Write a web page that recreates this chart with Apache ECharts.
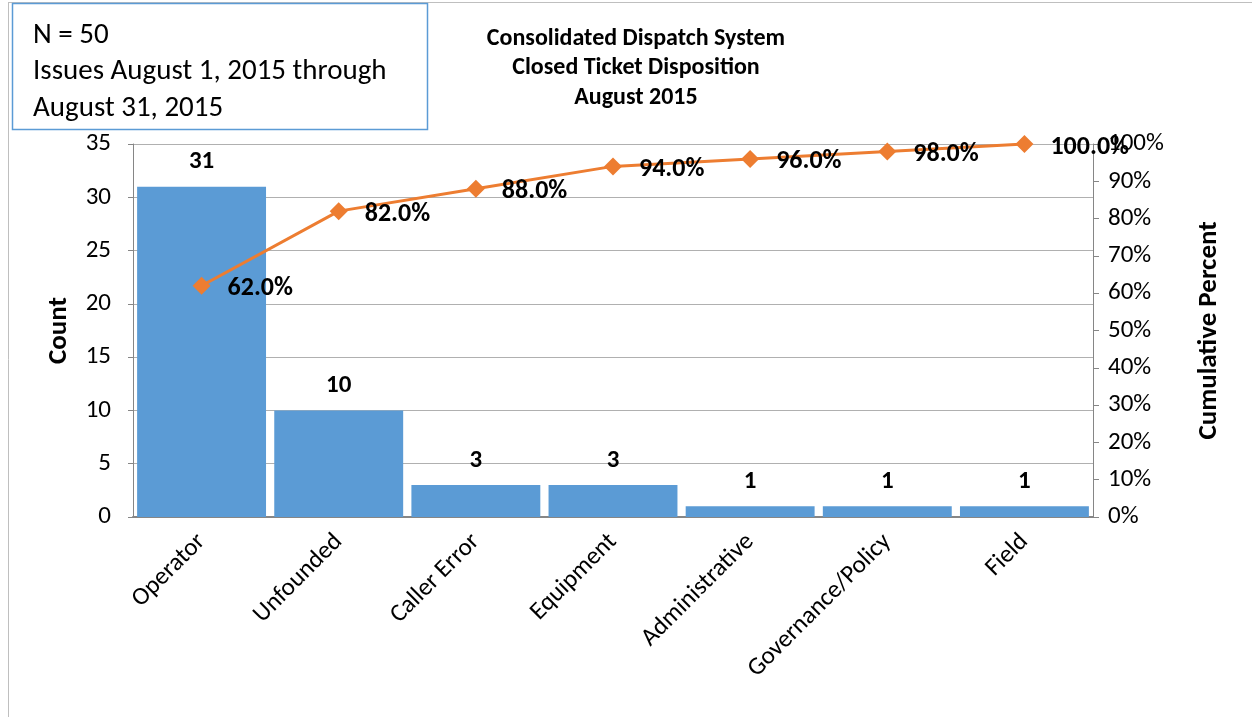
<!DOCTYPE html>
<html><head><meta charset="utf-8">
<script src="https://cdn.jsdelivr.net/npm/echarts@6/dist/echarts.min.js"></script>
<style>html,body{margin:0;padding:0;background:#fff}#c{width:1252px;height:717px}</style>
</head><body><div id="c"></div>
<script>
const categories = ['Operator','Unfounded','Caller Error','Equipment','Administrative','Governance/Policy','Field'];
const counts = [31,10,3,3,1,1,1];
const cumulativePct = [62.0,82.0,88.0,94.0,96.0,98.0,100.0];
const countTicks = {min:0,max:35,interval:5};
const pctTicks = {min:0,max:100,interval:10};
const titleLines = ['Consolidated Dispatch System','Closed Ticket Disposition','August 2015'];
const noteLines = ['N = 50','Issues August 1, 2015 through','August 31, 2015'];

const F = 'Carlito, Lato, "Noto Sans", sans-serif';
const chart = echarts.init(document.getElementById('c'));
chart.setOption({
  animation:false,
  textStyle:{fontFamily:F},
  title:{text:titleLines.join('\n'),left:631,top:19,textAlign:'center',
    textStyle:{fontFamily:F,fontSize:24,fontWeight:'bold',color:'#000',lineHeight:29.5}},
  grid:{left:133,right:159,top:144,bottom:200,containLabel:false},
  xAxis:{type:'category',data:categories,
    axisLine:{lineStyle:{color:'#868686',width:2}},axisTick:{show:false},
    axisLabel:{rotate:45,fontSize:25,color:'#000',fontFamily:F,margin:21,interval:0}},
  yAxis:[
    {type:'value',min:countTicks.min,max:countTicks.max,interval:countTicks.interval,
     name:'Count',nameLocation:'middle',nameGap:60,nameRotate:90,
     nameTextStyle:{fontSize:27,fontWeight:'bold',color:'#000',fontFamily:F},
     axisLine:{show:true,lineStyle:{color:'#868686'}},axisTick:{show:true,length:5,lineStyle:{color:'#868686'}},
     axisLabel:{fontSize:25,color:'#000',margin:22,fontFamily:F},
     splitLine:{lineStyle:{color:'#b0b0b0'}}},
    {type:'value',min:pctTicks.min,max:pctTicks.max,interval:pctTicks.interval,position:'right',
     name:'Cumulative Percent',nameLocation:'middle',nameGap:103,nameRotate:90,
     nameTextStyle:{fontSize:27,fontWeight:'bold',color:'#000',fontFamily:F},
     axisLine:{show:true,lineStyle:{color:'#868686'}},axisTick:{show:true,length:6,lineStyle:{color:'#868686'}},
     axisLabel:{fontSize:25,color:'#000',margin:15,fontFamily:F,formatter:'{value}%'},
     splitLine:{show:false}}
  ],
  series:[
    {type:'bar',data:counts,barCategoryGap:'6%',itemStyle:{color:'#5b9bd5'},
     label:{show:true,position:'top',distance:12,fontSize:25,fontWeight:'bold',color:'#000',fontFamily:F}},
    {type:'line',yAxisIndex:1,data:cumulativePct,symbol:'diamond',symbolSize:[18,18],
     lineStyle:{color:'#ed7d31',width:3},itemStyle:{color:'#ed7d31'},z:3,
     label:{show:true,position:'right',distance:17,offset:[0,3],fontSize:26,fontWeight:'bold',color:'#000',fontFamily:F,
       formatter:p=>p.value.toFixed(1)+'%'}}
  ],
  graphic:[
    {type:'line',shape:{x1:8.5,y1:2,x2:8.5,y2:717},style:{stroke:'#bfbfbf',lineWidth:1}},
    {type:'line',shape:{x1:8,y1:2.5,x2:1252,y2:2.5},style:{stroke:'#bfbfbf',lineWidth:1}},
    {type:'rect',shape:{x:12.5,y:3.5,width:415,height:126},style:{fill:'#fff',stroke:'#5b9bd5',lineWidth:1.5},z:100},
    {type:'text',left:33,top:17,z:101,style:{text:noteLines.join('\n'),fontSize:29,fontFamily:F,fill:'#000',lineHeight:36.5}}
  ]
});
</script></body></html>
